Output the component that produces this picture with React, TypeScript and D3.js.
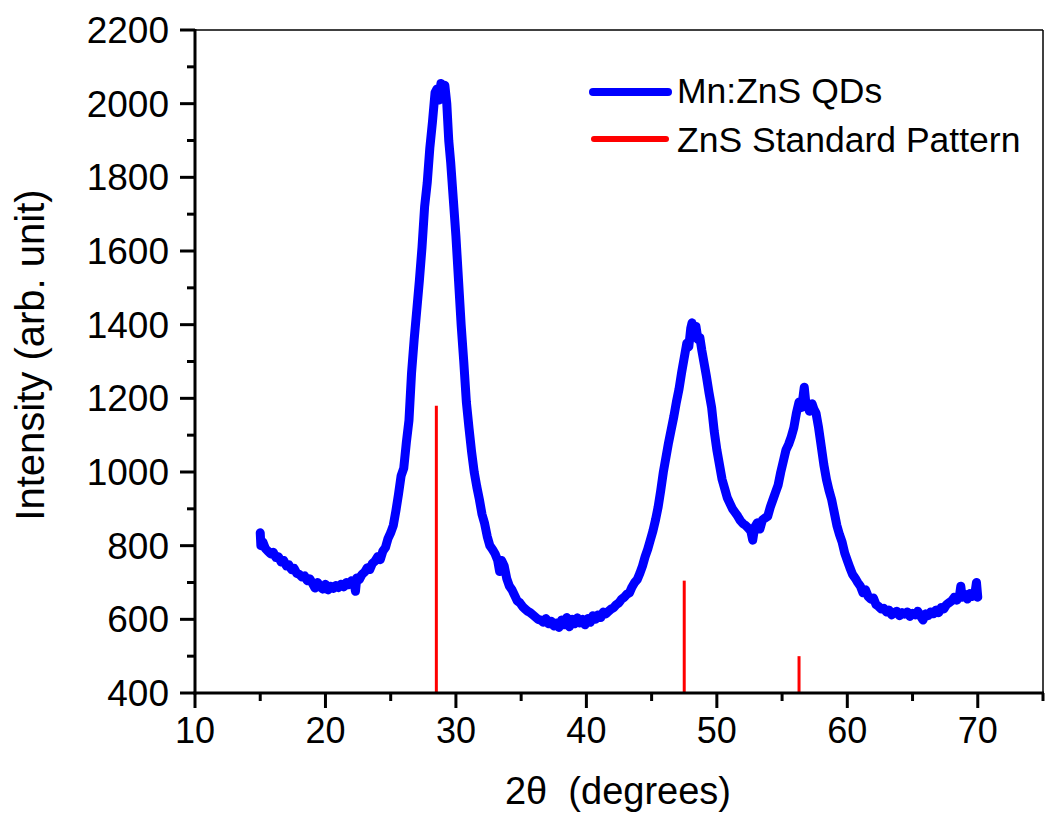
import React from "react";
import * as d3 from "d3";

const xrdData: [number, number][] = [
  [15.0, 835],[15.05, 800],[15.2, 810],[15.4, 792],[15.6, 785],[15.8, 778],[16.0, 782],[16.2, 768],[16.4, 770],[16.6, 756],
  [16.8, 760],[17.0, 745],[17.2, 748],[17.4, 735],[17.6, 738],[17.8, 725],[18.0, 722],[18.2, 715],[18.4, 718],[18.6, 705],
  [18.8, 710],[19.0, 698],[19.2, 685],[19.4, 700],[19.6, 688],[19.8, 682],[20.0, 695],[20.2, 680],[20.4, 690],[20.6, 684],
  [20.8, 692],[21.0, 686],[21.2, 695],[21.4, 688],[21.6, 700],[21.8, 694],[22.0, 705],[22.2, 698],[22.3, 676],[22.4, 712],
  [22.6, 708],[22.8, 722],[23.0, 728],[23.2, 740],[23.4, 735],[23.6, 752],[23.8, 758],[24.0, 770],[24.2, 762],[24.4, 785],
  [24.6, 795],[24.8, 820],[25.0, 835],[25.2, 855],[25.4, 895],[25.6, 940],[25.8, 990],[26.0, 1010],[26.2, 1080],[26.4, 1140],
  [26.6, 1270],[26.8, 1360],[27.0, 1440],[27.2, 1520],[27.4, 1610],[27.6, 1720],[27.8, 1785],[28.0, 1880],[28.2, 1950],[28.4, 2030],
  [28.55, 2040],[28.7, 2010],[28.85, 2055],[29.0, 2045],[29.15, 2050],[29.3, 2000],[29.45, 1900],[29.6, 1840],[29.8, 1740],[30.0, 1640],
  [30.2, 1520],[30.4, 1400],[30.6, 1300],[30.8, 1190],[31.0, 1120],[31.2, 1055],[31.4, 1000],[31.6, 960],[31.8, 925],[32.0, 885],
  [32.2, 860],[32.4, 825],[32.6, 800],[32.8, 790],[33.0, 778],[33.2, 760],[33.35, 730],[33.5, 760],[33.7, 745],[33.9, 710],
  [34.1, 690],[34.3, 680],[34.5, 665],[34.7, 650],[34.9, 645],[35.1, 635],[35.3, 628],[35.5, 622],[35.7, 618],[35.9, 612],
  [36.1, 606],[36.3, 600],[36.5, 598],[36.7, 592],[36.9, 602],[37.1, 588],[37.3, 595],[37.5, 582],[37.7, 590],[37.9, 578],
  [38.1, 598],[38.3, 585],[38.5, 605],[38.7, 580],[38.9, 600],[39.1, 588],[39.3, 604],[39.5, 590],[39.7, 600],[39.9, 585],
  [40.1, 602],[40.3, 592],[40.5, 610],[40.7, 600],[40.9, 612],[41.1, 605],[41.3, 620],[41.5, 615],[41.7, 622],[41.9, 628],
  [42.1, 632],[42.3, 640],[42.5, 645],[42.7, 655],[42.9, 660],[43.1, 668],[43.3, 672],[43.5, 688],[43.7, 700],[43.9, 708],
  [44.1, 725],[44.3, 745],[44.5, 770],[44.7, 790],[44.9, 815],[45.1, 840],[45.3, 870],[45.5, 905],[45.7, 950],[45.9, 1000],
  [46.1, 1040],[46.3, 1080],[46.5, 1115],[46.7, 1150],[46.9, 1190],[47.1, 1225],[47.3, 1270],[47.5, 1310],[47.7, 1350],[47.85, 1340],
  [48.0, 1390],[48.1, 1405],[48.25, 1370],[48.4, 1395],[48.55, 1360],[48.7, 1365],[48.85, 1330],[49.0, 1300],[49.2, 1260],[49.4, 1215],
  [49.6, 1175],[49.8, 1110],[50.0, 1060],[50.2, 1020],[50.4, 980],[50.6, 955],[50.8, 930],[51.0, 915],[51.2, 900],[51.4, 890],
  [51.6, 880],[51.8, 868],[52.0, 860],[52.2, 855],[52.4, 848],[52.6, 840],[52.75, 815],[52.9, 850],[53.1, 862],[53.3, 845],
  [53.5, 870],[53.7, 875],[53.9, 880],[54.1, 905],[54.3, 925],[54.5, 945],[54.7, 965],[54.9, 1000],[55.1, 1030],[55.3, 1060],
  [55.5, 1075],[55.7, 1095],[55.9, 1120],[56.1, 1160],[56.3, 1190],[56.5, 1175],[56.7, 1230],[56.8, 1195],[56.95, 1180],[57.1, 1165],
  [57.3, 1185],[57.45, 1170],[57.6, 1160],[57.8, 1120],[58.0, 1070],[58.2, 1020],[58.4, 980],[58.6, 950],[58.8, 925],[59.0, 890],
  [59.2, 855],[59.4, 830],[59.6, 810],[59.8, 780],[60.0, 760],[60.2, 740],[60.4, 722],[60.6, 712],[60.8, 700],[61.0, 690],
  [61.2, 672],[61.4, 680],[61.6, 662],[61.8, 655],[62.0, 658],[62.2, 640],[62.4, 635],[62.6, 628],[62.8, 630],[63.0, 620],
  [63.2, 625],[63.4, 612],[63.6, 618],[63.8, 622],[64.0, 610],[64.2, 618],[64.4, 614],[64.6, 620],[64.8, 608],[65.0, 616],
  [65.2, 612],[65.4, 622],[65.6, 610],[65.8, 598],[66.0, 615],[66.2, 610],[66.4, 620],[66.6, 615],[66.8, 625],[67.0, 618],
  [67.2, 632],[67.4, 628],[67.6, 640],[67.8, 645],[68.0, 650],[68.2, 660],[68.4, 652],[68.6, 665],[68.7, 690],[68.8, 660],
  [69.0, 668],[69.2, 655],[69.4, 670],[69.6, 662],[69.8, 675],[69.9, 700],[70.0, 660],
];

const stickPositions = [28.5, 47.5, 56.3];
const stickIntensities = [1180, 705, 500];

const xTicks = [10, 20, 30, 40, 50, 60, 70];
const yTicks = [400, 600, 800, 1000, 1200, 1400, 1600, 1800, 2000, 2200];

const legendLabels = ["Mn:ZnS QDs", "ZnS Standard Pattern"];
const seriesColors = ["#0000ff", "#ff0000"];

const W = 1045;
const H = 817;
const left = 195;
const right = 1043;
const top = 30;
const bottom = 693;

export default function App() {
  const x = d3.scaleLinear().domain([10, 75]).range([left, right]);
  const y = d3.scaleLinear().domain([400, 2200]).range([bottom, top]);

  const line = d3
    .line<[number, number]>()
    .x((d) => x(d[0]))
    .y((d) => y(d[1]));

  const xMinor = d3.range(10, 75.01, 5);
  const yMinor = d3.range(400, 2200.01, 100);
  const font = "'Liberation Sans', Arial, sans-serif";

  return (
    <svg
      width={W}
      height={H}
      style={{ position: "absolute", left: 0, top: 0, background: "#fff" }}
      fontFamily={font}
    >
      <rect x={0} y={0} width={W} height={H} fill="#fff" />
      {stickPositions.map((p, i) => (
        <line
          key={"s" + i}
          x1={x(p)}
          x2={x(p)}
          y1={y(400)}
          y2={y(stickIntensities[i])}
          stroke={seriesColors[1]}
          strokeWidth={3}
        />
      ))}
      <path
        d={line(xrdData) || ""}
        fill="none"
        stroke={seriesColors[0]}
        strokeWidth={9}
        strokeLinejoin="round"
        strokeLinecap="round"
      />
      <line x1={left} x2={right} y1={top} y2={top} stroke="#000" strokeWidth={1.5} />
      <line x1={right} x2={right} y1={top} y2={bottom} stroke="#000" strokeWidth={1.5} />
      <line x1={left} x2={left} y1={top - 1} y2={bottom + 1.5} stroke="#000" strokeWidth={3} />
      <line x1={left - 1.5} x2={right + 1} y1={bottom} y2={bottom} stroke="#000" strokeWidth={3} />
      {xMinor.map((t) => {
        const major = t % 10 === 0;
        return (
          <line
            key={"xt" + t}
            x1={x(t)}
            x2={x(t)}
            y1={bottom}
            y2={bottom + (major ? 15 : 8)}
            stroke="#000"
            strokeWidth={3}
          />
        );
      })}
      {xTicks.map((t) => (
        <text key={"xl" + t} x={x(t)} y={743} textAnchor="middle" fontSize={36} fill="#000">
          {t}
        </text>
      ))}
      {yMinor.map((t) => {
        const major = t % 200 === 0;
        return (
          <line
            key={"yt" + t}
            x1={left - (major ? 15 : 8)}
            x2={left}
            y1={y(t)}
            y2={y(t)}
            stroke="#000"
            strokeWidth={3}
          />
        );
      })}
      {yTicks.map((t) => (
        <text
          key={"yl" + t}
          x={169}
          y={y(t) + 13}
          textAnchor="end"
          fontSize={37}
          fill="#000"
        >
          {t}
        </text>
      ))}
      <text
        transform={`translate(44, 355) rotate(-90)`}
        textAnchor="middle"
        fontSize={40}
        fill="#000"
      >
        Intensity (arb. unit)
      </text>
      <text x={618} y={804} textAnchor="middle" fontSize={38} fill="#000" xmlSpace="preserve">
        2θ  (degrees)
      </text>
      <line x1={593} x2={668} y1={92} y2={92} stroke={seriesColors[0]} strokeWidth={8} strokeLinecap="round" />
      <text x={677} y={103} fontSize={35.5} fill="#000">
        {legendLabels[0]}
      </text>
      <line x1={594} x2={666} y1={139} y2={139} stroke={seriesColors[1]} strokeWidth={6} strokeLinecap="round" />
      <text x={677} y={152} fontSize={35.5} fill="#000">
        {legendLabels[1]}
      </text>
    </svg>
  );
}
